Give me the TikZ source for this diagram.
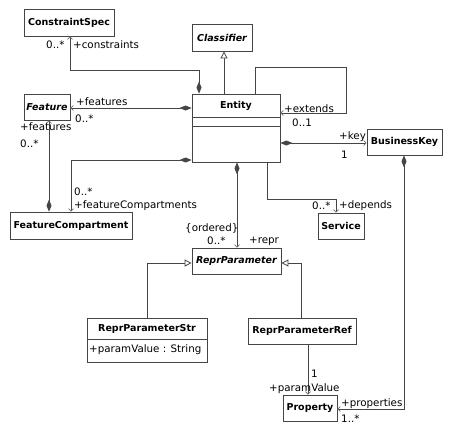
\documentclass[tikz,border=0pt]{standalone}
\usepackage{fontspec}
\setmainfont{DejaVu Sans}
\usetikzlibrary{arrows.meta}
\definecolor{lc}{HTML}{454545}
\definecolor{ac}{HTML}{707070}
\begin{document}
\begin{tikzpicture}[x=1pt,y=-1pt,
  box/.style={draw=lc, line width=0.8pt, fill=white, inner sep=0pt, font=\bfseries\fontsize{9.5}{11}\selectfont},
  abox/.style={box, font=\bfseries\itshape\fontsize{9.5}{11}\selectfont},
  ttl/.style={inner sep=0pt, font=\bfseries\fontsize{9.5}{11}\selectfont},
  lbl/.style={inner sep=0pt, anchor=west, font=\fontsize{10.3}{12}\selectfont},
  conn/.style={draw=lc, line width=0.8pt},
  assoc/.style={conn, arrows={Diamond[length=12pt,width=5pt,color=lc]-Straight Barb[length=2.5pt,width=5pt,color=ac,line width=0.7pt]}},
  nav/.style={conn, arrows={-Straight Barb[length=2.5pt,width=5pt,color=ac,line width=0.7pt]}},
  gen/.style={conn, arrows={-Triangle[open,length=7pt,width=7pt,fill=white,color=lc]}}
]
\useasboundingbox (0,0) rectangle (452,437);
% boxes
\node[box, minimum width=90pt, minimum height=27pt] (cs) at (69,22.5) {ConstraintSpec};
\node[abox, minimum width=60pt, minimum height=27pt] (cl) at (222,37.5) {Classifier};
\node[box, minimum width=88pt, minimum height=68pt] (ent) at (236,128) {};
\node[ttl] (entT) at (236,105.5) {Entity};
\draw[conn] (ent.west |- 0,117) -- (ent.east |- 0,117);
\draw[conn] (ent.west |- 0,126) -- (ent.east |- 0,126);
\node[abox, minimum width=46pt, minimum height=26pt] (feat) at (47,107) {Feature};
\node[box, minimum width=75pt, minimum height=26pt] (bk) at (404.5,142) {BusinessKey};
\node[box, minimum width=122pt, minimum height=27pt] (fc) at (71,225.5) {FeatureCompartment};
\node[box, minimum width=46pt, minimum height=26pt] (srv) at (341,226) {Service};
\node[abox, minimum width=89pt, minimum height=26pt] (rp) at (236.5,261) {ReprParameter};
\node[box, minimum width=120pt, minimum height=44pt] (rps) at (147,340) {};
\node[ttl] (rpsT) at (147,328.5) {ReprParameterStr};
\draw[conn] (rps.west |- 0,339) -- (rps.east |- 0,339);
\node[lbl] (rpsA) at (89,350) {+paramValue : String};
\node[box, minimum width=108pt, minimum height=26pt] (rpr) at (302,331) {ReprParameterRef};
\node[box, minimum width=54pt, minimum height=26pt] (prop) at (310,408) {Property};
% connectors
\draw[gen] (224,0 |- ent.north) -- (224,0 |- cl.south);
\draw[assoc] (199,0 |- ent.north) -- (199,70) -- (70,70) -- (70,0 |- cs.south);
\draw[assoc] (ent.west |- 0,108) -- (feat.east |- 0,108);
\draw[nav] (255,0 |- ent.north) -- (255,67) -- (346,67) -- (346,113) -- (ent.east |- 0,113);
\draw[assoc] (ent.east |- 0,143) -- (bk.west |- 0,143);
\draw[assoc] (ent.west |- 0,160) -- (71,160) -- (71,0 |- fc.north);
\draw[assoc] (49,0 |- fc.north) -- (49,0 |- feat.south);
\draw[assoc] (237,0 |- ent.south) -- (237,0 |- rp.north);
\draw[nav] (267,0 |- ent.south) -- (267,199) -- (336,199) -- (336,0 |- srv.north);
\draw[gen] (147,0 |- rps.north) -- (147,263) -- (rp.west |- 0,263);
\draw[gen] (301,0 |- rpr.north) -- (301,263) -- (rp.east |- 0,263);
\draw[nav] (308,0 |- rpr.south) -- (308,0 |- prop.north);
\draw[assoc] (404,0 |- bk.south) -- (404,409) -- (prop.east |- 0,409);
% labels
\node[lbl] (l1) at (46,45) {0..*};
\node[lbl] (l2) at (73,45) {+constraints};
\node[lbl] (l3) at (76,102) {+features};
\node[lbl] (l4) at (75,119) {0..*};
\node[lbl] (l5) at (20,127) {+features};
\node[lbl] (l6) at (20,144) {0..*};
\node[lbl] (l7) at (284,109) {+extends};
\node[lbl] (l8) at (292,123) {0..1};
\node[lbl] (l9) at (339,137) {+key};
\node[lbl] (l10) at (341,155) {1};
\node[lbl] (l11) at (74,192) {0..*};
\node[lbl] (l12) at (74,206) {+featureCompartments};
\node[lbl] (l13) at (185,228) {\{ordered\}};
\node[lbl] (l14) at (207,241) {0..*};
\node[lbl] (l15) at (249,241) {+repr};
\node[lbl] (l16) at (312,206) {0..*};
\node[lbl] (l17) at (339,206) {+depends};
\node[lbl] (l18) at (311,374) {1};
\node[lbl] (l19) at (269,389) {+paramValue};
\node[lbl] (l20) at (341,404) {+properties};
\node[lbl] (l21) at (341,419) {1..*};
\end{tikzpicture}
\end{document}
